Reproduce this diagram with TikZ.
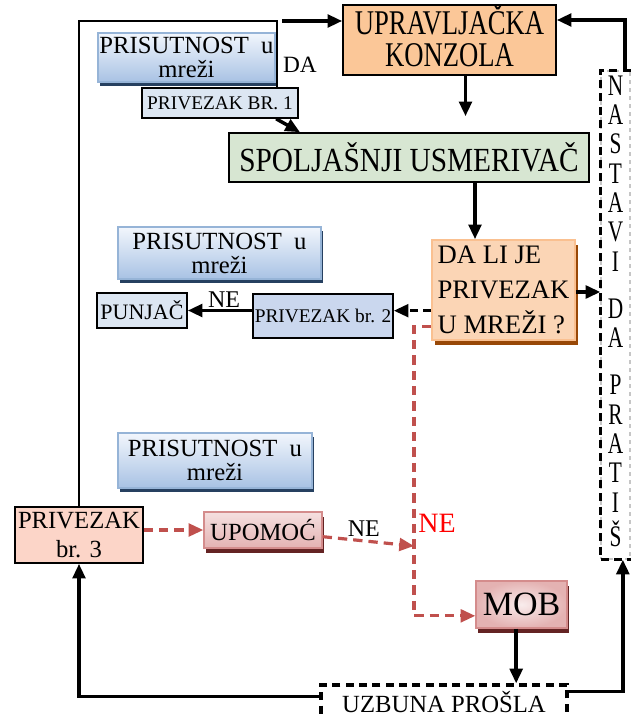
\documentclass[tikz,border=0pt]{standalone}
\usepackage{fontspec}
\setmainfont{Liberation Serif}
\usepackage{graphicx}
\usepackage{tikz}
\usetikzlibrary{arrows.meta, positioning, shadows, calc}
\definecolor{konzolaboja}{RGB}{251,199,152}
\definecolor{usmerivacboja}{RGB}{215,230,210}
\definecolor{upitboja}{RGB}{251,213,181}
\definecolor{upitrub}{RGB}{250,192,144}
\definecolor{upitsenka}{RGB}{152,72,7}
\definecolor{prisutnostgore}{RGB}{242,246,252}
\definecolor{prisutnostdole}{RGB}{168,194,228}
\definecolor{prisutnostrub}{RGB}{150,180,215}
\definecolor{prisutnostsenka}{RGB}{38,64,96}
\definecolor{privezakplava}{RGB}{220,230,242}
\definecolor{privezakdva}{RGB}{202,215,238}
\definecolor{privezaktri}{RGB}{252,213,200}
\definecolor{alarmgore}{RGB}{245,224,224}
\definecolor{alarmdole}{RGB}{228,178,178}
\definecolor{alarmrub}{RGB}{212,140,140}
\definecolor{alarmsenka}{RGB}{100,35,35}
\definecolor{crvenalinija}{RGB}{192,80,77}

\begin{document}
\begin{tikzpicture}[x=0.75pt, y=-0.75pt,
    >={Triangle[length=11pt,width=9.5pt]},
    mera/.style 2 args={minimum width=#1*0.75pt, minimum height=#2*0.75pt},
    blok/.style={draw=black, line width=1.2pt, align=center, inner sep=0pt},
    prisutnost/.style={draw=prisutnostrub, line width=1pt, top color=prisutnostgore,
        bottom color=prisutnostdole, align=center, inner sep=0pt,
        drop shadow={shadow xshift=1.5pt, shadow yshift=-3pt, fill=prisutnostsenka, opacity=1},
        font=\fontsize{18.5}{18}\selectfont},
    alarm/.style={draw=alarmrub, line width=1pt, align=center, inner sep=0pt,
        drop shadow={shadow xshift=1.5pt, shadow yshift=-3.5pt, fill=alarmsenka, opacity=1}},
    linija/.style={line width=2.6pt},
    tanka/.style={line width=1.4pt},
    isprekidana/.style={line width=2.4pt, dash pattern=on 6pt off 4pt},
    crvena/.style={line width=2.4pt, crvenalinija, dash pattern=on 7pt off 4.5pt},
    oznaka/.style={inner sep=1pt, text=black, font=\fontsize{18}{20}\selectfont}]
    \useasboundingbox (0,0) rectangle (632,717);

    % Glavni blokovi
    \node[blok, mera={213}{60}, fill=konzolaboja, font=\fontsize{20}{16.2}\selectfont]
        (konzola) at (449.5,40) {\scalebox{1}[1.3]{\begin{tabular}{@{}c@{}}
            UPRAVLJAČKA\\KONZOLA\end{tabular}}};
    \node[blok, mera={360}{49}, fill=usmerivacboja, font=\fontsize{22}{24}\selectfont]
        (usmerivac) at (409,157.5) {\scalebox{1}[1.15]{SPOLJAŠNJI USMERIVAČ}};
    \node[blok, mera={143}{100}, draw=upitrub, fill=upitboja, align=left,
        drop shadow={shadow xshift=2pt, shadow yshift=-4pt, fill=upitsenka, opacity=1},
        font=\fontsize{20}{26}\selectfont]
        (upit) at (503.5,290) {DA LI JE\\PRIVEZAK\\U MREŽI ?};
    \node[mera={29}{488}, draw=gray!45, line width=1pt, dashed, inner sep=0pt,
        font=\fontsize{16}{15.7}\selectfont]
        (nastavi) at (615.5,315) {\scalebox{1}[1.4]{\begin{tabular}{@{}c@{}}
            N\\A\\S\\T\\A\\V\\I\\[9.6pt]D\\A\\[9.6pt]P\\R\\A\\T\\I\\Š\end{tabular}}};
    \draw[isprekidana] (nastavi.north east) -- (nastavi.north west)
        -- (nastavi.south west) -- (nastavi.south east);

    % Prisutnost u mrezi
    \foreach \i/\x/\y/\w/\h in {1/186.5/57.5/177/49, 2/219.5/253/203/52, 3/215/460.5/194/55} {
        \node[prisutnost, mera={\w}{\h}] (prisutnost\i) at (\x,\y) {PRISUTNOST~~u\\mreži};
    }

    % Privesci
    \node[blok, mera={156}{30}, fill=privezakplava, font=\fontsize{14.5}{16}\selectfont]
        (privezak1) at (220,103) {PRIVEZAK BR. 1};
    \node[blok, mera={140}{44}, fill=privezakdva, font=\fontsize{14.5}{16}\selectfont]
        (privezak2) at (323,316) {PRIVEZAK br. 2};
    \node[blok, mera={90}{35}, fill=privezakplava, font=\fontsize{16.5}{18}\selectfont]
        (punjac) at (142,310.5) {PUNJAČ};
    \node[blok, mera={128}{56}, fill=privezaktri, font=\fontsize{18.5}{22}\selectfont]
        (privezak3) at (79,535) {PRIVEZAK\\br. 3};
    \node[alarm, mera={118}{36}, top color=alarmgore, bottom color=alarmdole,
        font=\fontsize{18.5}{20}\selectfont] (upomoc) at (263,530) {UPOMOĆ};
    \node[alarm, mera={91}{47}, inner color=alarmgore!60!white, outer color=alarmdole,
        font=\fontsize{25.5}{28}\selectfont] (mob) at (521.5,604.5) {MOB};
    \node[mera={246}{34}, draw=black, isprekidana, inner sep=0pt,
        font=\fontsize{18.5}{20}\selectfont] (uzbuna) at (444,702) {UZBUNA PROŠLA};

    % Oznake
    \node[oznaka, font=\fontsize{17.5}{20}\selectfont] (da) at (300,65) {DA};
    \node[oznaka, text=red, font=\fontsize{21}{24}\selectfont] (crvenone) at (437,523) {NE};
    \coordinate (ugao) at (277,21);
    \coordinate (skretanje) at (414,546);

    % Veze
    \draw[tanka] (privezak3.north) |- (ugao) -- (ugao |- privezak1.north);
    \draw[linija, ->] ([xshift=4pt]ugao) -- (ugao -| konzola.west);
    \draw[linija, ->] ([xshift=-17pt]privezak1.south east) -- ([xshift=-81.75pt]usmerivac.north);
    \draw[linija, ->, shorten >=12pt] ([xshift=12pt]konzola.south)
        -- ([xshift=12pt]konzola.south |- usmerivac.north);
    \draw[linija, ->] ([xshift=49.5pt]usmerivac.south) -- ([xshift=49.5pt]usmerivac.south |- upit.north);
    \draw[linija, ->] ([yshift=-1.5pt]upit.east) -- ([yshift=-1.5pt]upit.east -| nastavi.west);
    \draw[linija, ->] ([xshift=7pt]nastavi.north) |- ([yshift=15pt]konzola.east);
    \draw[isprekidana, ->] ([yshift=4pt]upit.west |- privezak2.east) -- ([yshift=4pt]privezak2.east);
    \draw[linija, ->] (privezak2.west |- punjac.east) -- node[oznaka, above, xshift=3pt] {NE} (punjac.east);
    \draw[crvena, ->] ([yshift=-27.5pt]upit.west) -| (skretanje) |- ([yshift=-8.5pt]mob.west);
    \draw[crvena, ->] (privezak3.east |- upomoc.west) -- (upomoc.west);
    \draw[crvena, ->] ([yshift=-5pt]upomoc.east) -- node[oznaka, pos=0.45, above=1pt] {NE} (skretanje);
    \draw[linija, ->] ([xshift=-4pt]mob.south) -- ([xshift=-4pt]mob.south |- uzbuna.north);
    \draw[linija, ->] ([yshift=4pt]uzbuna.west) -| (privezak3.south);
    \draw[linija, ->] ([yshift=8pt]uzbuna.east) -| ([xshift=5.5pt]nastavi.south);
\end{tikzpicture}
\end{document}
